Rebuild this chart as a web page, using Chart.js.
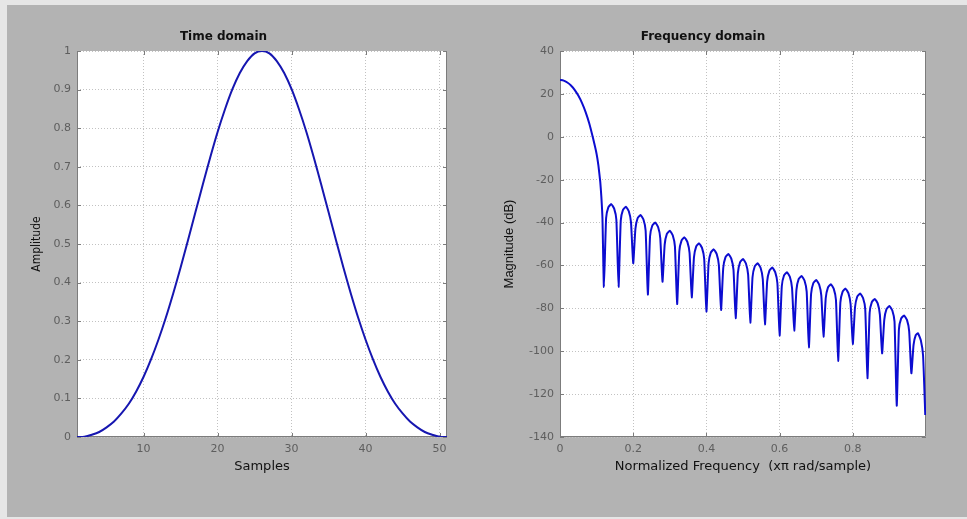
<!DOCTYPE html>
<html>
<head>
<meta charset="utf-8">
<script src="https://cdn.jsdelivr.net/npm/chart.js@4/dist/chart.umd.min.js"></script>
<style>
  html, body { margin: 0; padding: 0; background: #e6e6e6; }
  body { width: 967px; height: 519px; position: relative; overflow: hidden; }
  #fig { position: absolute; left: 7px; top: 5px; width: 960px; height: 512px; background: #b3b3b3; }
  .panel { position: absolute; top: 0; }
  #timeWrap { left: 0; }
  #freqWrap { left: 480px; }
</style>
</head>
<body>
<div id="fig"></div>
<div class="panel" id="timeWrap"><canvas id="timeChart" width="480" height="519"></canvas></div>
<div class="panel" id="freqWrap"><canvas id="freqChart" width="487" height="519"></canvas></div>
<script>
// time domain: window samples 1..51
const sampleIndex = [1, 2, 3, 4, 5, 6, 7, 8, 9, 10, 11, 12, 13, 14, 15, 16, 17, 18, 19, 20,
  21, 22, 23, 24, 25, 26, 27, 28, 29, 30, 31, 32, 33, 34, 35, 36, 37, 38, 39, 40,
  41, 42, 43, 44, 45, 46, 47, 48, 49, 50, 51];
const timeAmplitude = [0, 0.001, 0.006, 0.013, 0.025, 0.040, 0.061, 0.086, 0.118, 0.156,
  0.201, 0.252, 0.309, 0.372, 0.439, 0.510, 0.582, 0.654, 0.724, 0.790,
  0.849, 0.901, 0.943, 0.974, 0.994, 1.000, 0.994, 0.974, 0.943, 0.901,
  0.849, 0.790, 0.724, 0.654, 0.582, 0.510, 0.439, 0.372, 0.309, 0.252,
  0.201, 0.156, 0.118, 0.086, 0.061, 0.040, 0.025, 0.013, 0.006, 0.001, 0];

// frequency domain: normalized frequency (x pi rad/sample) and magnitude in dB
const freqAxis = [
  0, 0.01, 0.02, 0.03, 0.04, 0.05, 0.06, 0.07, 0.08, 0.09, 0.10, 0.105, 0.11, 0.113, 0.116, 0.12,
  0.126, 0.132, 0.14, 0.148, 0.154, 0.16,
  0.166, 0.172, 0.18, 0.188, 0.194, 0.20,
  0.206, 0.212, 0.22, 0.228, 0.234, 0.24,
  0.246, 0.252, 0.26, 0.268, 0.274, 0.28,
  0.286, 0.292, 0.30, 0.308, 0.314, 0.32,
  0.326, 0.332, 0.34, 0.348, 0.354, 0.36,
  0.366, 0.372, 0.38, 0.388, 0.394, 0.40,
  0.406, 0.412, 0.42, 0.428, 0.434, 0.44,
  0.446, 0.452, 0.46, 0.468, 0.474, 0.48,
  0.486, 0.492, 0.50, 0.508, 0.514, 0.52,
  0.526, 0.532, 0.54, 0.548, 0.554, 0.56,
  0.566, 0.572, 0.58, 0.588, 0.594, 0.60,
  0.606, 0.612, 0.62, 0.628, 0.634, 0.64,
  0.646, 0.652, 0.66, 0.668, 0.674, 0.68,
  0.686, 0.692, 0.70, 0.708, 0.714, 0.72,
  0.726, 0.732, 0.74, 0.748, 0.754, 0.76,
  0.766, 0.772, 0.78, 0.788, 0.794, 0.80,
  0.806, 0.812, 0.82, 0.828, 0.834, 0.84,
  0.846, 0.852, 0.86, 0.868, 0.874, 0.88,
  0.886, 0.892, 0.90, 0.908, 0.914, 0.92,
  0.926, 0.932, 0.94, 0.948, 0.954, 0.96,
  0.966, 0.972, 0.978, 0.986, 0.992, 0.998
];
const magnitudeDb = [
  26.5, 26.2, 25.3, 23.9, 21.9, 19.2, 15.8, 11.5, 6.2, -0.5, -8.0, -13.5, -21.0, -28.0, -38.0, -70.0,
  -37.9, -32.9, -31.4, -33.5, -38.7, -70.0,
  -39.1, -34.1, -32.6, -34.7, -39.9, -59.0,
  -43.0, -38.0, -36.5, -38.6, -43.8, -73.6,
  -46.5, -41.5, -40.0, -42.1, -47.3, -67.6,
  -50.3, -45.3, -43.8, -45.9, -51.1, -78.0,
  -53.4, -48.4, -46.9, -49.0, -54.2, -74.9,
  -56.2, -51.2, -49.7, -51.8, -57.0, -81.5,
  -59.0, -54.0, -52.5, -54.6, -59.8, -80.8,
  -61.2, -56.2, -54.7, -56.8, -62.0, -84.6,
  -63.5, -58.5, -57.0, -59.1, -64.3, -86.7,
  -65.5, -60.5, -59.0, -61.1, -66.3, -87.5,
  -67.5, -62.5, -61.0, -63.1, -68.3, -92.7,
  -69.7, -64.7, -63.2, -65.3, -70.5, -90.4,
  -71.4, -66.4, -64.9, -67.0, -72.2, -98.2,
  -73.3, -68.3, -66.8, -68.9, -74.1, -93.2,
  -75.3, -70.3, -68.8, -70.9, -76.1, -104.5,
  -77.3, -72.3, -70.8, -72.9, -78.1, -96.6,
  -79.6, -74.6, -73.1, -75.2, -80.4, -112.6,
  -82.1, -77.1, -75.6, -77.7, -82.9, -101.0,
  -85.4, -80.4, -78.9, -81.0, -86.2, -125.4,
  -89.8, -84.8, -83.3, -85.4, -90.6, -110.3,
  -97.0, -92.5, -91.6, -95.0, -102.0, -129.7
];

// tick labels
const sampleTicks = [10, 20, 30, 40, 50];
const amplitudeTicks = [0, 0.1, 0.2, 0.3, 0.4, 0.5, 0.6, 0.7, 0.8, 0.9, 1];
const freqTicks = [0, 0.2, 0.4, 0.6, 0.8];
const dbTicks = [-140, -120, -100, -80, -60, -40, -20, 0, 20, 40];

const tickFont = { family: 'DejaVu Sans', size: 11 };
const tickColor = '#5e5e5e';
const gridColor = '#c2c2c2';

// white axes box, grey frame and inward tick marks like matlab
const axesFrame = {
  id: 'axesFrame',
  beforeDraw(chart) {
    const { ctx, chartArea: a } = chart;
    ctx.save();
    ctx.fillStyle = '#ffffff';
    ctx.fillRect(a.left, a.top, a.right - a.left, a.bottom - a.top);
    ctx.restore();
  },
  beforeDatasetsDraw(chart) {
    const { ctx, chartArea: a, scales } = chart;
    ctx.save();
    ctx.strokeStyle = '#7c7c7c';
    ctx.lineWidth = 1;
    ctx.beginPath();
    ctx.moveTo(a.left + 0.5, a.top);
    ctx.lineTo(a.left + 0.5, a.bottom - 0.5);
    ctx.lineTo(a.right - 0.5, a.bottom - 0.5);
    ctx.lineTo(a.right - 0.5, a.top);
    scales.x.ticks.forEach(t => {
      const px = Math.round(scales.x.getPixelForValue(t.value)) + 0.5;
      ctx.moveTo(px, a.bottom); ctx.lineTo(px, a.bottom - 4);
      ctx.moveTo(px, a.top); ctx.lineTo(px, a.top + 4);
    });
    scales.y.ticks.forEach(t => {
      const py = Math.round(scales.y.getPixelForValue(t.value)) + 0.5;
      ctx.moveTo(a.left, py); ctx.lineTo(a.left + 4, py);
      ctx.moveTo(a.right, py); ctx.lineTo(a.right - 4, py);
    });
    ctx.stroke();
    ctx.restore();
  }
};

function axisOpts(min, max, ticks, size, title, titleFont, titlePad) {
  return {
    type: 'linear', min: min, max: max,
    afterBuildTicks: s => { s.ticks = ticks.map(v => ({ value: v })); },
    afterFit: s => { if (s.isHorizontal()) s.height = size; else s.width = size; },
    grid: { color: gridColor, drawTicks: false },
    border: { display: false, dash: [1, 2] },
    ticks: {
      padding: 6, color: tickColor, font: tickFont, maxRotation: 0, autoSkip: false,
      callback: v => String(v)
    },
    title: { display: true, text: title, color: '#111', font: titleFont, padding: titlePad }
  };
}

function makeChart(id, xs, ys, color, tension, titleText, padRight, xAxis, yAxis) {
  return new Chart(document.getElementById(id), {
    type: 'line',
    data: {
      datasets: [{
        data: xs.map((x, i) => ({ x: x, y: ys[i] })),
        borderColor: color,
        borderWidth: 2,
        pointRadius: 0,
        tension: tension,
        fill: false
      }]
    },
    options: {
      responsive: false,
      animation: false,
      layout: { padding: { left: 0, right: padRight, top: 0, bottom: 0 } },
      plugins: {
        legend: { display: false },
        tooltip: { enabled: false },
        title: {
          display: true, text: titleText, color: '#111',
          font: { family: 'DejaVu Sans', size: 12, weight: 'bold' },
          padding: { top: 30, bottom: 6.6 }
        }
      },
      scales: { x: xAxis, y: yAxis }
    },
    plugins: [axesFrame]
  });
}

const labelFont = { family: 'DejaVu Sans', size: 13 };

makeChart('timeChart', sampleIndex, timeAmplitude, '#1616b0', 0.3, 'Time domain', 33,
  axisOpts(1, 51, sampleTicks, 82, 'Samples', labelFont, { top: 0, bottom: 45 }),
  axisOpts(0, 1, amplitudeTicks, 77, 'Amplitude',
    { family: '"Liberation Sans Narrow", "DejaVu Sans Condensed", "Liberation Sans"', size: 12 },
    { top: 30, bottom: 0 }));

makeChart('freqChart', freqAxis, magnitudeDb, '#0c0cd0', 0.15, 'Frequency domain', 41,
  axisOpts(0, 1, freqTicks, 82, 'Normalized Frequency  (x\u03c0 rad/sample)', labelFont, { top: 0, bottom: 45 }),
  axisOpts(-140, 40, dbTicks, 80, 'Magnitude (dB)',
    { family: 'Liberation Sans', size: 13 },
    { top: 22, bottom: 0 }));
</script>
</body>
</html>
